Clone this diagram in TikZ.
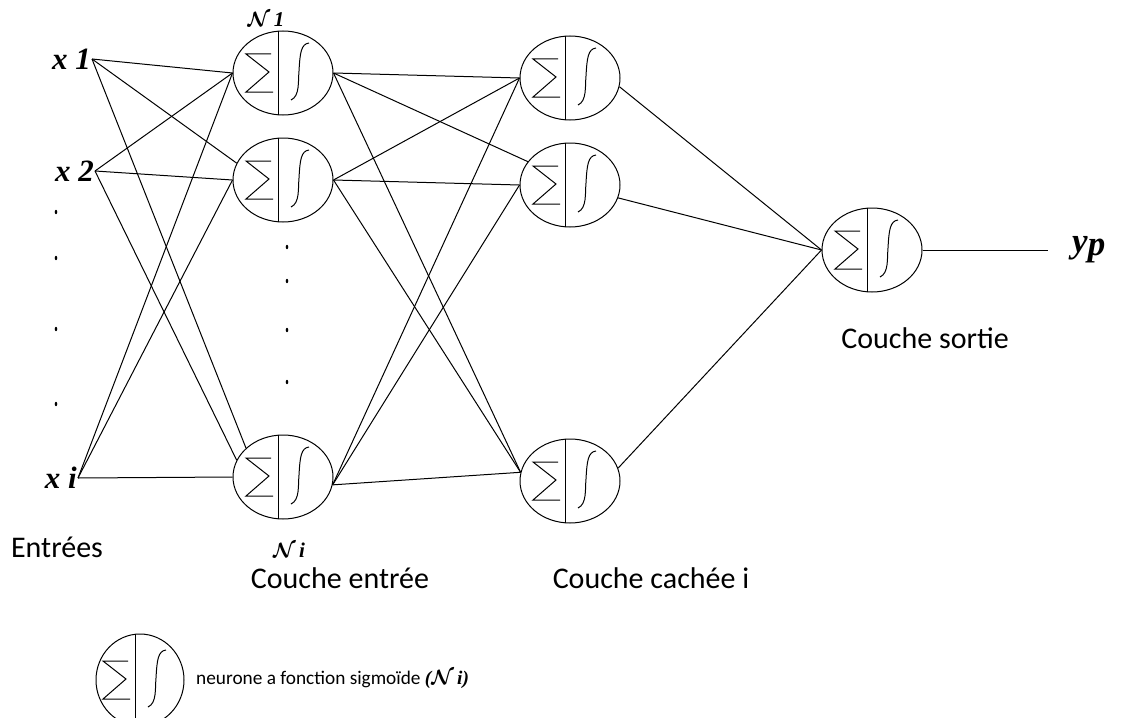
\documentclass[tikz,border=0pt]{standalone}
\usepackage{fontspec}
\setmainfont{Carlito}
\newfontfamily\rnserif{Liberation Serif}
\usetikzlibrary{shapes.geometric}
\definecolor{rnInk}{HTML}{000000}
% sum bar, split line and sigmoid curve inside one neuron
\newcommand\rnglyph{%
  \draw[rn line] (-5,-50) -- (-5,50);
  \draw[rn line] (-12,-19) -- (-37,-19) -- (-14,-1) -- (-37,19) -- (-10,19);
  \draw[rn line] (8,27) .. controls (17,23) and (15,8) .. (16,-2) .. controls (17,-20) and (18,-29) .. (26,-30);
}
\newcommand\rnN[1]{{\boldmath$\mathcal{N}$}\,{\rnserif\bfseries\itshape #1}}
\tikzset{
  rn line/.style={draw=rnInk, line width=1pt},
  rn neuron/.style={ellipse, draw=rnInk, line width=1pt, minimum width=100pt, minimum height=84pt, inner sep=0pt,
    path picture={\begin{scope}[shift={(path picture bounding box.center)}]\rnglyph\end{scope}}},
  rn input/.style={font=\rnserif\bfseries\itshape\fontsize{31}{34}\selectfont, text=rnInk, inner sep=1pt},
  rn name/.style={font=\fontsize{21}{24}\selectfont, text=rnInk, inner sep=0pt},
  rn label/.style={font=\fontsize{30}{34}\selectfont, text=rnInk, inner sep=0pt},
  rn small label/.style={font=\fontsize{19.3}{22}\selectfont, text=rnInk, inner sep=0pt},
}

\begin{document}
\begin{tikzpicture}[x=1pt,y=-1pt]
  \useasboundingbox (0,0) rectangle (1123,717);
  % Inputs
  \node[rn input, anchor=east] (x1) at (92,59) {x 1};
  \node[rn input, anchor=east] (x2) at (95,171) {x 2};
  \node[rn input, anchor=east] (xi) at (78,478) {x i};
  \foreach \y in {212,258,329,404} \fill[rnInk] (56,\y) ellipse (1.3 and 2.2);
  % Input layer
  \node[rn neuron] (n1) at (283,73) {};
  \node[rn neuron] (n2) at (283,180) {};
  \node[rn neuron] (n3) at (283,477) {};
  \foreach \y in {247,281,330,382} \fill[rnInk] (287,\y) ellipse (1.3 and 2.2);
  % Hidden layer
  \node[rn neuron] (h1) at (570,78) {};
  \node[rn neuron] (h2) at (570,185) {};
  \node[rn neuron] (h3) at (570,481) {};
  % Output layer
  \node[rn neuron] (o) at (872,250) {};
  \coordinate (yend) at (1048,250);
  \node[rn input, anchor=west, font=\rnserif\bfseries\itshape\fontsize{35}{38}\selectfont] (yp) at (1071,250) {y\raisebox{-3pt}{p}};

  % Weights
  \foreach \src/\dst in {x1/n1.west, x1/n2.160, x1/n3.142, x2/n1.west, x2/n2.west, x2/n3.160, xi/n1.west, xi/n2.west, xi/n3.west}
    \draw[rn line] (\src.east) -- (\dst);
  \foreach \src/\dst in {n1.east/h1.west, n1.east/h2.151, n1.east/h3.170, n2.east/h1.west, n2.east/h2.west, n2.east/h3.170, n3.-9/h1.west, n3.-9/h2.west, n3.-9/h3.170}
    \draw[rn line] (\src) -- (\dst);
  \foreach \src in {h1.-10, h2.-15, h3.15}
    \draw[rn line] (\src) -- (o.west);
  \draw[rn line] (o.east) -- (yend);

  % Names and layer captions
  \node[rn name] (n1name) at (266,19) {\rnN{1}};
  \node[rn name] (niname) at (289,550) {\rnN{i}};
  \node[rn label] (entrees) at (57,547) {Entrées};
  \node[rn label] (lin) at (340,578) {Couche entrée};
  \node[rn label] (lhid) at (651,578) {Couche cachée i};
  \node[rn label] (lout) at (925,338) {Couche sortie};

  % Key
  \node[rn neuron, minimum width=88pt, minimum height=92pt] (key) at (140,680) {};
  \node[rn small label, anchor=west] (keytext) at (196,679) {neurone a fonction sigmoïde {\rnserif\bfseries\itshape(}\rnN{i)}};
\end{tikzpicture}
\end{document}
